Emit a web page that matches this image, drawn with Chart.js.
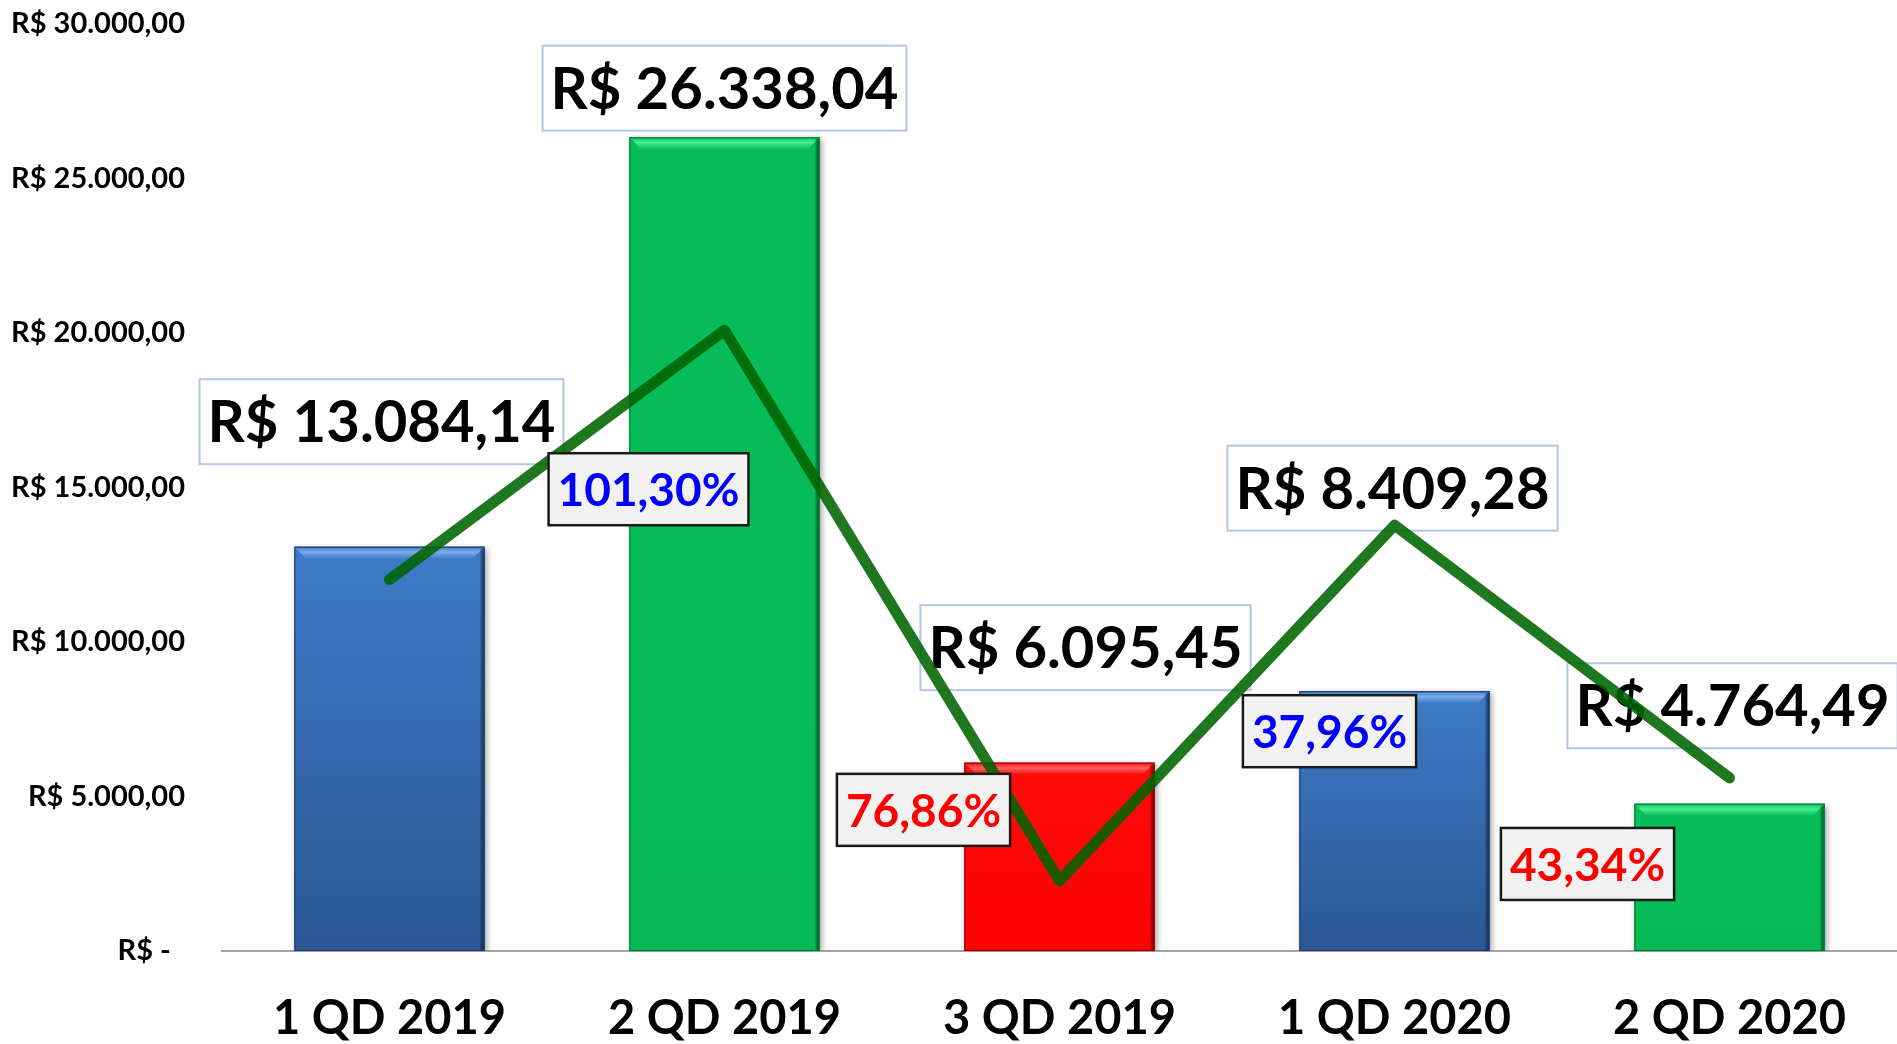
<!DOCTYPE html>
<html>
<head>
<meta charset="utf-8">
<script src="https://cdn.jsdelivr.net/npm/chart.js@4"></script>
<style>
  html, body { margin: 0; padding: 0; background: #ffffff; }
  #wrap { width: 1897px; height: 1044px; }
</style>
</head>
<body>
<div id="wrap"><canvas id="myChart" width="1897" height="1044"></canvas></div>
<script>
// chart data
const categories = ["1 QD 2019", "2 QD 2019", "3 QD 2019", "1 QD 2020", "2 QD 2020"];
const values = [13084.14, 26338.04, 6095.45, 8409.28, 4764.49];
// green trend line (same scale as the bars)
const trendValues = [12020, 20090, 2270, 13780, 5600];
// change between quarters, in %
const pctChange = [101.30, -76.86, 37.96, -43.34];
const yTicks = [0, 5000, 10000, 15000, 20000, 25000, 30000];

// styles
const barKind = ["blue", "green", "red", "blue", "green"];
const barLook = {
  blue: { top: "#3E7BC8", bottom: "#2B5793", bevel: "#7DADE8", edge: "#1F3F6C" },
  green: { top: "#08BE59", bottom: "#06B955", bevel: "#48EE93", edge: "#047A3A" },
  red: { top: "#FF0A0A", bottom: "#FF0303", bevel: "#FF6060", edge: "#9C0000" },
};
// label box centres, offset from the top of each bar (px)
const valueLabelOffset = [[-8, -125], [0, -49], [26, -115], [-2, -203], [3, -98]];
// % box centres, offset from the line point of the later quarter (px)
const pctLabelOffset = [[-76, 159], [-136, -71], [-65, 206], [-142, 86]];

function brl(v) {
  const parts = v.toFixed(2).split(".");
  return "R$ " + parts[0].replace(/\B(?=(\d{3})+(?!\d))/g, ".") + "," + parts[1];
}
function pct(v) {
  return Math.abs(v).toFixed(2).replace(".", ",") + "%";
}

function drawBox(ctx, cx, cy, text, font, color, fill, stroke, lw, h, pad) {
  ctx.save();
  ctx.font = font;
  const w = ctx.measureText(text).width + pad * 2;
  ctx.fillStyle = fill;
  ctx.fillRect(cx - w / 2, cy - h / 2, w, h);
  ctx.lineWidth = lw;
  ctx.strokeStyle = stroke;
  ctx.strokeRect(cx - w / 2, cy - h / 2, w, h);
  ctx.fillStyle = color;
  ctx.textAlign = "center";
  ctx.textBaseline = "middle";
  ctx.fillText(text, cx, cy + 2);
  ctx.restore();
}

// bevel on the bars + value boxes, drawn right after the bars (under the line)
const barExtras = {
  id: "barExtras",
  beforeDatasetDraw(chart, args) {
    if (args.meta.type !== "bar") return;
    const ctx = chart.ctx;
    ctx.save();
    ctx.shadowColor = "rgba(0,0,0,0.35)";
    ctx.shadowBlur = 6;
    ctx.shadowOffsetX = 2;
    ctx.shadowOffsetY = 2;
  },
  afterDatasetDraw(chart, args) {
    if (args.meta.type !== "bar") return;
    const ctx = chart.ctx;
    ctx.restore();
    args.meta.data.forEach((bar, i) => {
      const look = barLook[barKind[i]];
      const l = bar.x - bar.width / 2;
      const r = bar.x + bar.width / 2;
      const t = bar.y;
      const b = bar.base;
      const bv = 12;
      ctx.save();
      // top bevel
      const g = ctx.createLinearGradient(0, t, 0, t + bv);
      g.addColorStop(0, look.top);
      g.addColorStop(0.45, look.bevel);
      g.addColorStop(1, look.top);
      ctx.fillStyle = g;
      ctx.beginPath();
      ctx.moveTo(l, t);
      ctx.lineTo(r, t);
      ctx.lineTo(r - bv, t + bv);
      ctx.lineTo(l + bv, t + bv);
      ctx.closePath();
      ctx.fill();
      // right edge shade
      const g2 = ctx.createLinearGradient(r - 5, 0, r, 0);
      g2.addColorStop(0, "rgba(0,0,0,0)");
      g2.addColorStop(1, look.edge);
      ctx.fillStyle = g2;
      ctx.fillRect(r - 5, t + 2, 5, b - t - 2);
      // outline
      ctx.strokeStyle = look.edge;
      ctx.lineWidth = 1.2;
      ctx.strokeRect(l + 0.5, t + 0.5, r - l - 1, b - t - 1);
      ctx.restore();
      const off = valueLabelOffset[i];
      drawBox(ctx, bar.x + off[0], t + off[1], brl(values[i]),
        "bold 58px Lato", "#000000", "#ffffff", "#B4C7E7", 2, 85, 8);
    });
  },
  afterDatasetsDraw(chart) {
    const ctx = chart.ctx;
    const lineMeta = chart.getDatasetMeta(0);
    pctChange.forEach((p, i) => {
      const pt = lineMeta.data[i + 1];
      const off = pctLabelOffset[i];
      drawBox(ctx, pt.x + off[0], pt.y + off[1], pct(p),
        "bold 46px Lato", p >= 0 ? "#0000FF" : "#FF0000", "#F2F2F2", "#1A1A1A", 2.5, 72, 9);
    });
  },
};

function barFill(c) {
  const look = barLook[barKind[c.dataIndex]];
  const chart = c.chart;
  const y = chart.scales && chart.scales.y;
  if (!y || c.raw === undefined) return look.top;
  const top = y.getPixelForValue(c.raw);
  const base = y.getPixelForValue(0);
  if (!isFinite(top) || !isFinite(base) || top === base) return look.top;
  const g = chart.ctx.createLinearGradient(0, top, 0, base);
  g.addColorStop(0, look.top);
  g.addColorStop(1, look.bottom);
  return g;
}

const ctx = document.getElementById("myChart").getContext("2d");
const chart = new Chart(ctx, {
  type: "bar",
  data: {
    labels: categories,
    datasets: [
      {
        type: "line",
        label: "Tendência",
        data: trendValues,
        order: 0,
        borderColor: "rgba(0,100,0,0.88)",
        borderWidth: 11,
        borderCapStyle: "round",
        borderJoinStyle: "round",
        tension: 0,
        pointRadius: 0,
        fill: false,
      },
      {
        type: "bar",
        label: "Valor",
        data: values,
        order: 1,
        backgroundColor: barFill,
        borderWidth: 0,
        categoryPercentage: 1,
        barPercentage: 0.568,
      },
    ],
  },
  options: {
    responsive: false,
    animation: false,
    devicePixelRatio: 1,
    layout: { padding: { top: 24, right: -5, bottom: 0, left: 0 } },
    plugins: {
      legend: { display: false },
      tooltip: { enabled: false },
      title: { display: false },
    },
    scales: {
      x: {
        grid: { display: true, color: "rgba(0,0,0,0)", drawTicks: false },
        border: { display: true, color: "#A6A6A6", width: 2 },
        ticks: {
          color: "#000000",
          font: { family: "Lato", weight: "bold", size: 47 },
          padding: 40,
          maxRotation: 0,
        },
        afterFit: (s) => { s.height = 93; },
      },
      y: {
        min: 0,
        max: 30000,
        grid: { display: false, drawTicks: false },
        border: { display: false },
        afterBuildTicks: (s) => { s.ticks = yTicks.map((v) => ({ value: v })); },
        ticks: {
          color: "#000000",
          font: { family: "Lato", weight: "bold", size: 29 },
          padding: 37,
          callback: (v) => (v === 0 ? "R$ -  " : brl(v)),
        },
        afterFit: (s) => {
          s.width = 222;
          s.paddingTop = 0;
          s.paddingBottom = 0;
        },
      },
    },
  },
  plugins: [barExtras],
});
</script>
</body>
</html>
